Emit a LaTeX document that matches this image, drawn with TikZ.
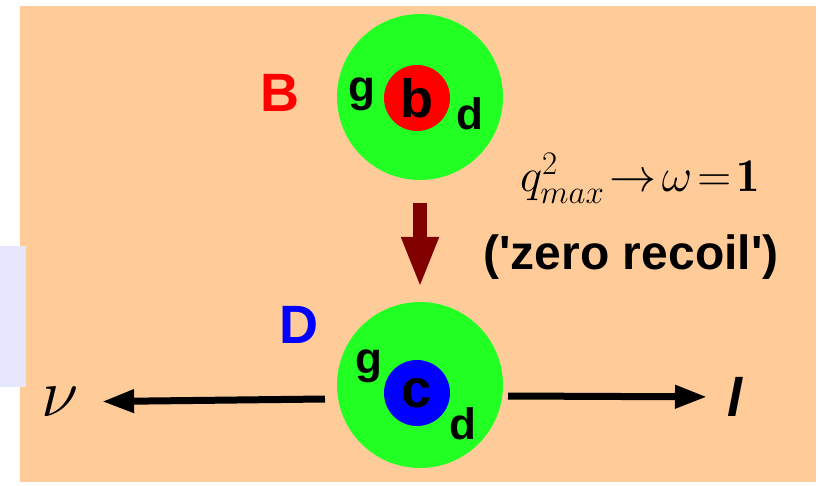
\RequirePackage{fix-cm}
\documentclass[tikz,border=0pt]{standalone}
\usepackage{fontspec}
\newfontfamily\arial{Liberation Sans}
\usepackage{tikz}
\usetikzlibrary{arrows.meta}

\definecolor{peach}{RGB}{255,204,153}
\definecolor{lavender}{RGB}{230,230,255}
\definecolor{glue}{RGB}{34,255,34}
\definecolor{maroon}{RGB}{128,0,0}

\tikzset{
  meson/.style={circle,fill=glue,inner sep=0pt,outer sep=0pt,minimum size=166pt},
  quark/.style={circle,inner sep=0pt,minimum size=66pt,font=\arial\bfseries\fontsize{54}{54}\selectfont},
  light/.style={font=\arial\bfseries\fontsize{44}{44}\selectfont},
  mesname/.style={font=\arial\bfseries\fontsize{54}{54}\selectfont},
  lepton/.style={line width=7pt,-{Triangle[length=32pt,width=22pt]}},
  decay/.style={line width=14pt,maroon,-{Triangle[length=51pt,width=34pt]}}
}

\begin{document}
\begin{tikzpicture}[x=1pt,y=-1pt]
\useasboundingbox (0,0) rectangle (821,486);
\fill[peach] (20,6) rectangle (816,482);
\fill[lavender] (0,246) rectangle (26,387);

% B meson
\node[meson] (Bmes) at (420,97) {};
\node[quark,fill=red] (bq) at (417,98) {b};
\node[light] (gB) at (362,94) {g};
\node[light] (dB) at (470,114) {d};
\node[mesname,red] (B) at (280,93) {B};

% D meson
\node[meson] (Dmes) at (420,385) {};
\node[quark,fill=blue] (cq) at (417,393) {c};
\node[light] (gD) at (369,366) {g};
\node[light] (dD) at (463,424) {d};
\node[mesname,blue] (D) at (299,325) {D};

% transition
\draw[decay,shorten <=23pt,shorten >=14pt] (Bmes) -- (Dmes);
\node[font=\fontsize{47}{47}\selectfont,anchor=base,inner sep=0pt] (qmax) at (640,192)
  {$q^2_{max}\!\rightarrow\!\omega\!=\!\mathbf{1}$};
\node[font=\arial\bfseries\fontsize{48}{48}\selectfont] (recoil) at (631,257)
  {('zero recoil')};

% leptons
\node[font=\fontsize{68}{68}\selectfont] (nu) at (60,402) {$\nu$};
\node[font=\arial\bfseries\itshape\fontsize{54}{54}\selectfont] (lep) at (735,397) {l};
\coordinate (nustart) at (325,399);
\coordinate (lstart) at (508,396);
\draw[lepton,shorten >=20pt] (nustart) -- (nu);
\draw[lepton,shorten >=17pt] (lstart) -- (lep);
\end{tikzpicture}
\end{document}
